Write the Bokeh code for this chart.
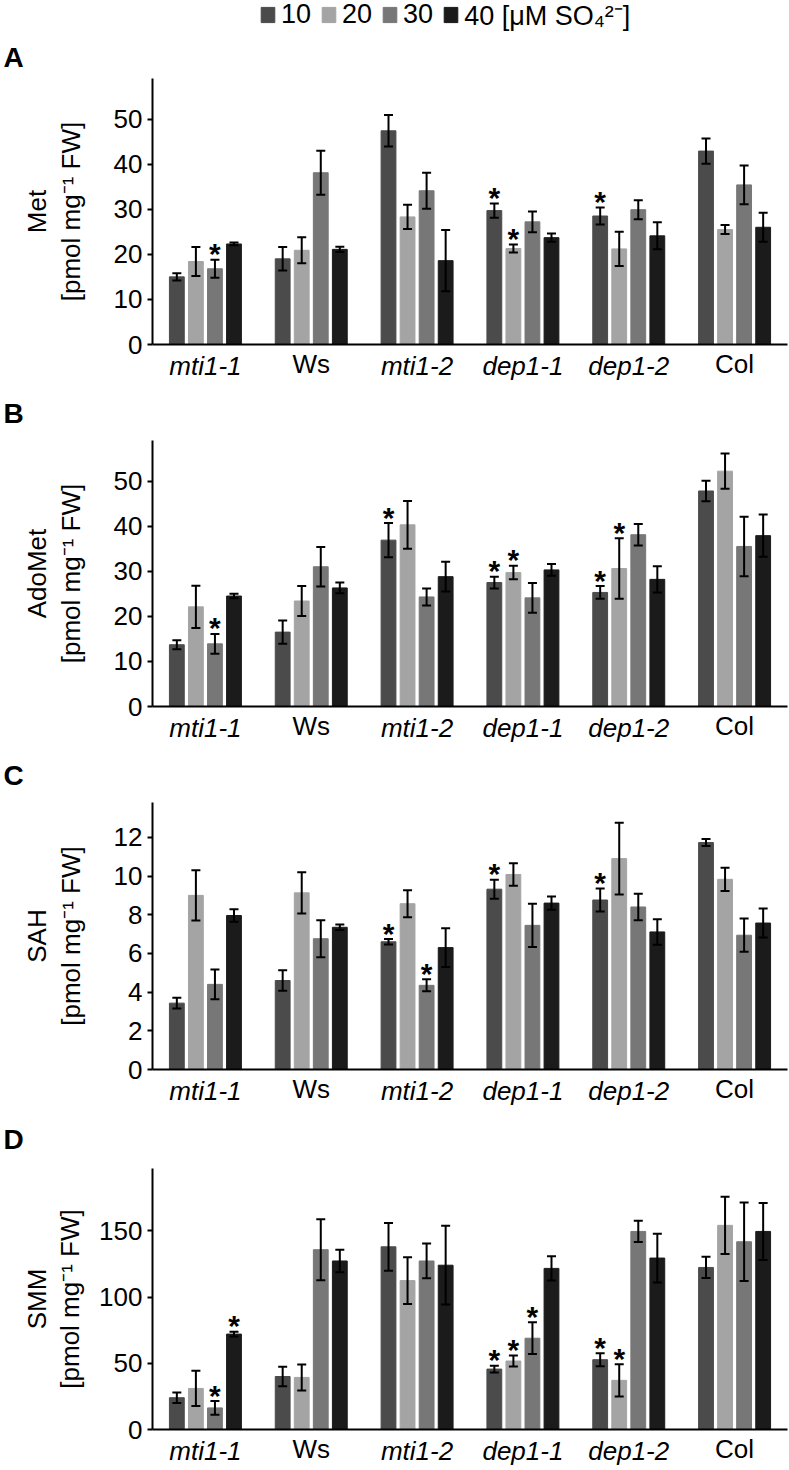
from bokeh.plotting import figure
from bokeh.models import (ColumnDataSource, FactorRange, Range1d, FixedTicker, Whisker, TeeHead,
                          Legend, LegendItem, Title, CategoricalAxis, CustomJSTickFormatter)
from bokeh.transform import dodge
from bokeh.layouts import column
from bokeh.embed import file_html
from bokeh.resources import INLINE
from bokeh.core.properties import value

# ---------------- data ----------------
genotypes = ["mti1-1", "Ws", "mti1-2", "dep1-1", "dep1-2", "Col"]
italic_genotypes = ["mti1-1", "mti1-2", "dep1-1", "dep1-2"]
upright_genotypes = ["Ws", "Col"]
legend_labels = ["10", "20", "30", "40 [μM SO₄²⁻]"]

# A: Met
met_10 = [15.0, 19.0, 47.4, 29.7, 28.5, 42.9]
met_20 = [18.4, 20.9, 28.3, 21.3, 21.2, 25.5]
met_30 = [16.8, 38.1, 34.1, 27.2, 29.9, 35.4]
met_40 = [22.3, 21.1, 18.6, 23.7, 24.1, 26.0]
met_10_err = [0.8, 2.6, 3.5, 1.6, 1.9, 2.8]
met_20_err = [3.2, 2.9, 2.7, 0.9, 3.8, 1.0]
met_30_err = [2.0, 4.9, 4.0, 2.3, 2.1, 4.3]
met_40_err = [0.3, 0.6, 6.8, 0.9, 3.0, 3.2]
met_star_10 = [0, 0, 0, 1, 1, 0]
met_star_20 = [0, 0, 0, 1, 0, 0]
met_star_30 = [1, 0, 0, 0, 0, 0]
met_star_40 = [0, 0, 0, 0, 0, 0]

# B: AdoMet
ado_10 = [13.7, 16.5, 36.9, 27.5, 25.3, 47.8]
ado_20 = [22.1, 23.4, 40.3, 29.7, 30.6, 52.2]
ado_30 = [13.9, 31.0, 24.3, 24.1, 38.1, 35.5]
ado_40 = [24.5, 26.3, 28.8, 30.3, 28.2, 37.9]
ado_10_err = [1.0, 2.6, 3.8, 1.3, 1.4, 2.3]
ado_20_err = [4.7, 3.3, 5.3, 1.5, 6.7, 3.9]
ado_30_err = [2.2, 4.4, 1.9, 3.3, 2.4, 6.6]
ado_40_err = [0.5, 1.2, 3.3, 1.3, 2.9, 4.7]
ado_star_10 = [0, 0, 1, 1, 1, 0]
ado_star_20 = [0, 0, 0, 1, 1, 0]
ado_star_30 = [1, 0, 0, 0, 0, 0]
ado_star_40 = [0, 0, 0, 0, 0, 0]

# C: SAH
sah_10 = [3.43, 4.6, 6.6, 9.32, 8.76, 11.73]
sah_20 = [9.0, 9.13, 8.57, 10.08, 10.9, 9.83]
sah_30 = [4.4, 6.76, 4.35, 7.45, 8.4, 6.94]
sah_40 = [7.96, 7.35, 6.3, 8.6, 7.11, 7.57]
sah_10_err = [0.28, 0.53, 0.14, 0.49, 0.59, 0.18]
sah_20_err = [1.3, 1.07, 0.7, 0.58, 1.85, 0.6]
sah_30_err = [0.77, 0.96, 0.31, 1.12, 0.69, 0.86]
sah_40_err = [0.32, 0.14, 1.0, 0.34, 0.66, 0.75]
sah_star_10 = [0, 0, 1, 1, 1, 0]
sah_star_20 = [0, 0, 0, 0, 0, 0]
sah_star_30 = [0, 0, 1, 0, 0, 0]
sah_star_40 = [0, 0, 0, 0, 0, 0]

# D: SMM
smm_10 = [24.0, 40.0, 137.9, 45.6, 52.7, 122.3]
smm_20 = [31.0, 39.3, 112.4, 51.7, 37.1, 154.1]
smm_30 = [16.3, 135.7, 127.2, 68.9, 149.5, 141.7]
smm_40 = [72.0, 127.2, 124.0, 121.6, 129.4, 149.5]
smm_10_err = [4.0, 7.3, 18.0, 2.5, 4.9, 8.0]
smm_20_err = [13.3, 9.8, 17.6, 4.1, 12.1, 21.6]
smm_30_err = [5.2, 23.0, 13.1, 12.0, 8.0, 29.6]
smm_40_err = [1.8, 8.5, 29.7, 9.1, 18.4, 21.5]
smm_star_10 = [0, 0, 0, 1, 1, 0]
smm_star_20 = [0, 0, 0, 1, 1, 0]
smm_star_30 = [1, 0, 0, 1, 0, 0]
smm_star_40 = [1, 0, 0, 0, 0, 0]

# ---------------- style ----------------
FONT = "Liberation Sans"
colors = ["#4b4b4b", "#a4a4a4", "#777777", "#1b1b1b"]
offsets = [-0.27, -0.09, 0.09, 0.27]
BAR_W = 0.14
W = 789
LEFT = 152
RIGHT = 2
XLAB_SIZE = 26
XLAB_STANDOFF = 6
XLAB_PULLUP = 35


def hide_formatter(hidden):
    return CustomJSTickFormatter(args=dict(hidden=hidden),
                                 code="return hidden.includes(tick) ? '' : tick;")


def style_x_labels(ax, font_style, hidden, standoff):
    ax.formatter = hide_formatter(hidden)
    ax.major_label_text_font = FONT
    ax.major_label_text_font_size = f"{XLAB_SIZE}px"
    ax.major_label_text_font_style = font_style
    ax.major_label_text_color = "black"
    ax.major_label_standoff = standoff
    ax.major_tick_line_color = None
    ax.major_tick_out = 0
    ax.major_tick_in = 0
    ax.minor_tick_line_color = None


def make_panel(letter, name, vals, errs, stars, ymax, ticks, height, top, bottom,
               label_standoff, letter_standoff):
    xr = FactorRange(factors=genotypes, range_padding=0)
    p = figure(x_range=xr, y_range=Range1d(0, ymax), width=W, height=height,
               output_backend="svg", toolbar_location=None,
               min_border_left=LEFT, min_border_right=RIGHT,
               min_border_top=top, min_border_bottom=bottom)
    p.title_location = None
    p.outline_line_color = None
    p.xgrid.visible = False
    p.ygrid.visible = False
    p.background_fill_color = "white"

    data = dict(g=genotypes)
    for i in range(4):
        data[f"v{i}"] = vals[i]
        data[f"u{i}"] = [v + e for v, e in zip(vals[i], errs[i])]
        data[f"l{i}"] = [v - e for v, e in zip(vals[i], errs[i])]
        data[f"s{i}"] = ["*" if s else "" for s in stars[i]]
    src = ColumnDataSource(data)

    for i in range(4):
        p.vbar(x=dodge("g", offsets[i], range=xr), top=f"v{i}", width=BAR_W, source=src,
               fill_color=colors[i], line_color=colors[i])
        wh = Whisker(base=dodge("g", offsets[i], range=xr), upper=f"u{i}", lower=f"l{i}",
                     source=src, line_color="black", line_width=2, level="overlay",
                     upper_head=TeeHead(size=9, line_color="black", line_width=2),
                     lower_head=TeeHead(size=9, line_color="black", line_width=2))
        p.add_layout(wh)
        p.text(x=dodge("g", offsets[i], range=xr), y=f"u{i}", text=f"s{i}", source=src,
               text_font=value(FONT), text_font_size="30px", text_font_style="bold",
               text_align="center", text_baseline="alphabetic", y_offset=-6, text_color="black")

    # y axis
    yax = p.yaxis[0]
    yax.ticker = FixedTicker(ticks=ticks)
    yax.major_label_text_font = FONT
    yax.major_label_text_font_size = "26px"
    yax.major_label_text_color = "black"
    yax.major_label_standoff = 5
    yax.major_tick_out = 5
    yax.major_tick_in = 0
    yax.major_tick_line_width = 2
    yax.minor_tick_line_color = None
    yax.axis_line_width = 2
    yax.axis_label = "[pmol mg⁻¹ FW]"
    yax.axis_label_text_font = FONT
    yax.axis_label_text_font_size = "26px"
    yax.axis_label_text_font_style = "normal"
    yax.axis_label_text_color = "black"
    yax.axis_label_standoff = label_standoff

    # x axis: italic mutant names on the main axis ...
    xax = p.xaxis[0]
    xax.axis_line_width = 2
    style_x_labels(xax, "italic", upright_genotypes, XLAB_STANDOFF)
    # ... and upright accession names on a second axis pulled up onto the same line
    ax2 = CategoricalAxis(axis_line_color=None)
    style_x_labels(ax2, "normal", italic_genotypes, -XLAB_PULLUP)
    p.add_layout(ax2, "below")

    p.add_layout(Title(text=name, align="center", text_font=FONT, text_font_size="26px",
                       text_font_style="normal", text_color="black", standoff=2), "left")
    p.add_layout(Title(text=letter, align="left", offset=3 - LEFT, standoff=letter_standoff,
                       text_font=FONT, text_font_size="28px", text_font_style="bold",
                       text_color="black"), "above")
    return p


def bare(fig):
    fig.title_location = None
    fig.axis.visible = False
    fig.grid.visible = False
    fig.outline_line_color = None


# ---------------- legend strip ----------------
leg_fig = figure(x_range=FactorRange(factors=genotypes, range_padding=0), y_range=Range1d(0, 59),
                 width=W, height=34, output_backend="svg", toolbar_location=None, min_border=0,
                 min_border_left=LEFT, min_border_right=RIGHT)
bare(leg_fig)
leg_src = ColumnDataSource(dict(g=genotypes, v0=met_10, v1=met_20, v2=met_30, v3=met_40))
leg_rends = []
for i in range(4):
    r = leg_fig.vbar(x=dodge("g", offsets[i], range=leg_fig.x_range), top=f"v{i}", width=BAR_W,
                     source=leg_src, fill_color=colors[i], line_color=colors[i])
    r.visible = False
    leg_rends.append(r)
legend = Legend(items=[LegendItem(label=lab, renderers=[r]) for lab, r in zip(legend_labels, leg_rends)],
                orientation="horizontal", location=(107, 1),
                glyph_width=17, glyph_height=19, label_text_font=FONT,
                label_text_font_size="27px", label_text_color="black",
                label_standoff=5, spacing=9, padding=0, margin=0,
                border_line_color=None, background_fill_alpha=0,
                inactive_fill_alpha=0)
leg_fig.add_layout(legend, "center")

pA = make_panel("A", "Met", [met_10, met_20, met_30, met_40],
                [met_10_err, met_20_err, met_30_err, met_40_err],
                [met_star_10, met_star_20, met_star_30, met_star_40],
                59, [0, 10, 20, 30, 40, 50], 349, 43, 36, 25, 11)
pB = make_panel("B", "AdoMet", [ado_10, ado_20, ado_30, ado_40],
                [ado_10_err, ado_20_err, ado_30_err, ado_40_err],
                [ado_star_10, ado_star_20, ado_star_30, ado_star_40],
                59, [0, 10, 20, 30, 40, 50], 362, 56, 36, 25, 24)
pC = make_panel("C", "SAH", [sah_10, sah_20, sah_30, sah_40],
                [sah_10_err, sah_20_err, sah_30_err, sah_40_err],
                [sah_star_10, sah_star_20, sah_star_30, sah_star_40],
                13.8, [0, 2, 4, 6, 8, 10, 12], 363, 56, 36, 25, 24)
pD = make_panel("D", "SMM", [smm_10, smm_20, smm_30, smm_40],
                [smm_10_err, smm_20_err, smm_30_err, smm_40_err],
                [smm_star_10, smm_star_20, smm_star_30, smm_star_40],
                197, [0, 50, 100, 150], 360, 59, 35, 11, 27)

layout = column(leg_fig, pA, pB, pC, pD, spacing=0)
open("out.html", "w").write(file_html(layout, INLINE))
